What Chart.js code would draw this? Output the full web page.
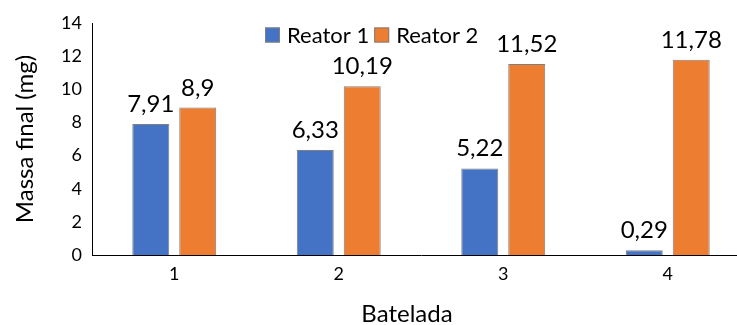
<!DOCTYPE html>
<html>
<head>
<meta charset="utf-8">
<script src="https://cdn.jsdelivr.net/npm/chart.js@4/dist/chart.umd.min.js"></script>
<style>
  html, body { margin: 0; padding: 0; background: #fff; overflow: hidden; }
  #wrap { width: 737px; height: 325px; overflow: hidden; position: relative; }
  canvas { display: block; }
</style>
</head>
<body>
<div id="wrap"><canvas id="c" width="752" height="325"></canvas></div>
<script>
const categories = ['1', '2', '3', '4'];
const reator1 = [7.91, 6.33, 5.22, 0.29];
const reator2 = [8.9, 10.19, 11.52, 11.78];
const seriesNames = ['Reator 1', 'Reator 2'];
const yTicks = [0, 2, 4, 6, 8, 10, 12, 14];
const xTitle = 'Batelada';
const yTitle = 'Massa final (mg)';

const FONT = 'Lato, "Open Sans", "Liberation Sans", sans-serif';

const fmt = v => String(v).replace('.', ',');

// Value labels above each bar
const valueLabels = {
  id: 'valueLabels',
  afterDatasetsDraw(chart) {
    const ctx = chart.ctx;
    ctx.save();
    ctx.font = '24px ' + FONT;
    ctx.fillStyle = '#000';
    ctx.textAlign = 'center';
    ctx.textBaseline = 'alphabetic';
    chart.data.datasets.forEach((ds, i) => {
      chart.getDatasetMeta(i).data.forEach((bar, j) => {
        ctx.fillText(fmt(ds.data[j]), bar.x, bar.y - 12);
      });
    });
    ctx.restore();
  }
};

// Legend inside the plot area, and the category axis title
const extras = {
  id: 'extras',
  afterDraw(chart) {
    const ctx = chart.ctx;
    const area = chart.chartArea;
    ctx.save();
    ctx.font = '22px ' + FONT;
    ctx.textBaseline = 'middle';
    ctx.textAlign = 'left';
    let x = area.left + 173;
    const cy = area.top + 12;
    const box = 15;
    chart.data.datasets.forEach(ds => {
      ctx.fillStyle = ds.backgroundColor;
      ctx.fillRect(x, cy - box / 2, box, box);
      ctx.strokeStyle = ds.borderColor;
      ctx.lineWidth = 1;
      ctx.strokeRect(x + 0.5, cy - box / 2 + 0.5, box - 1, box - 1);
      x += box + 7;
      ctx.fillStyle = '#000';
      ctx.fillText(ds.label, x, cy + 1);
      x += ctx.measureText(ds.label).width + 5;
    });

    ctx.font = '24px ' + FONT;
    ctx.textAlign = 'center';
    ctx.fillText(xTitle, area.left + 315, chart.height - 11);
    ctx.restore();
  }
};

new Chart(document.getElementById('c'), {
  type: 'bar',
  data: {
    labels: categories,
    datasets: [
      { label: seriesNames[0], data: reator1, backgroundColor: '#4472C4', borderColor: '#7F7F7F', borderWidth: 1 },
      { label: seriesNames[1], data: reator2, backgroundColor: '#ED7D31', borderColor: '#7F7F7F', borderWidth: 1 }
    ]
  },
  options: {
    responsive: false,
    animation: false,
    datasets: { bar: { categoryPercentage: 0.571, barPercentage: 0.787 } },
    layout: { padding: { top: 23, right: 2, left: 0, bottom: 0 } },
    plugins: {
      legend: { display: false },
      tooltip: { enabled: false }
    },
    scales: {
      x: {
        grid: { display: false, drawTicks: false },
        border: { display: true, color: '#000', width: 1 },
        ticks: { color: '#000', font: { family: FONT, size: 18 }, padding: 8 },
        afterFit(scale) { scale.height = 70; }
      },
      y: {
        min: 0, max: 14,
        grid: { display: false, drawTicks: false },
        border: { display: true, color: '#000', width: 1 },
        afterBuildTicks(scale) { scale.ticks = yTicks.map(v => ({ value: v })); },
        ticks: { color: '#000', font: { family: FONT, size: 18 }, padding: 10 },
        title: { display: true, text: yTitle, color: '#000', font: { family: FONT, size: 24, lineHeight: 1 }, padding: { top: 13, bottom: 0 } },
        afterFit(scale) { scale.width = 92; }
      }
    }
  },
  plugins: [valueLabels, extras]
});
</script>
</body>
</html>
